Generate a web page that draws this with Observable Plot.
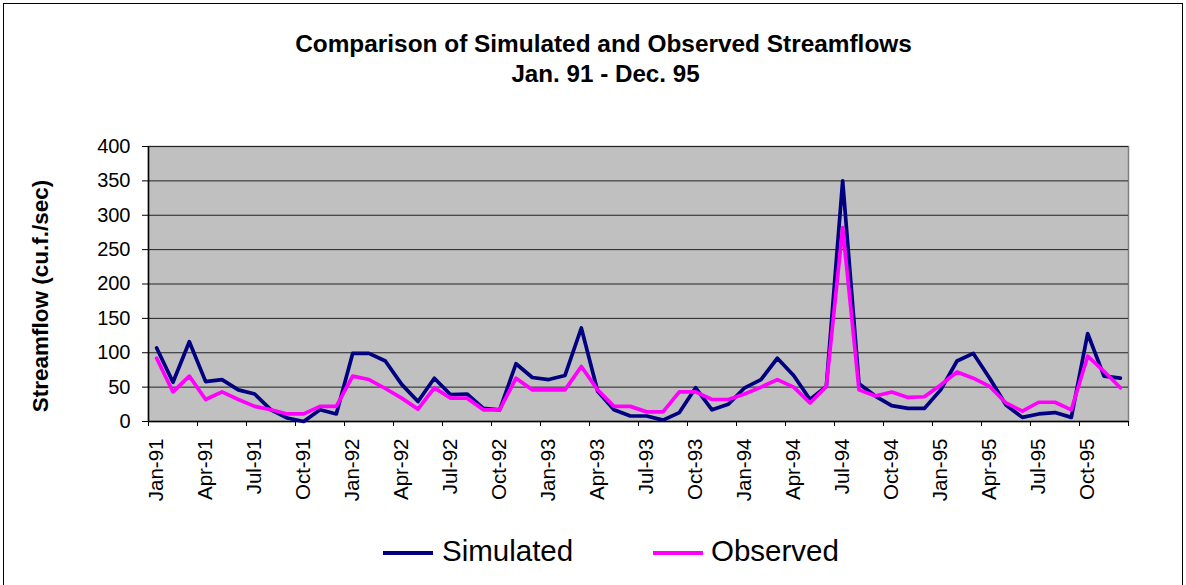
<!DOCTYPE html>
<html>
<head>
<meta charset="utf-8">
<script src="https://cdn.jsdelivr.net/npm/d3@7"></script>
<script src="https://cdn.jsdelivr.net/npm/@observablehq/plot@0.6"></script>
<style>
  html, body { margin: 0; padding: 0; background: #fff; }
  #wrap { position: relative; width: 1186px; height: 585px; overflow: hidden; font-family: "Liberation Sans", Arial, sans-serif; }
  #border { position: absolute; left: 3px; top: 3px; width: 1180px; height: 620px; border: 1px solid #000; box-sizing: border-box; }
  #chart { position: absolute; left: 0; top: 0; }
  .sw { position: absolute; height: 4px; }
  .lt { position: absolute; font-size: 29.5px; line-height: 1; color: #000; white-space: nowrap; }
</style>
</head>
<body>
<div id="wrap">
  <div id="border"></div>
  <div id="chart"></div>
  <div id="legend"></div>
</div>
<script>
const titleText = "Comparison of Simulated and Observed Streamflows";
const subtitleText = "Jan. 91 - Dec. 95";
const yLabel = "Streamflow (cu.f./sec)";
const seriesNames = ["Simulated", "Observed"];
const seriesColors = ["#000080", "#ff00ff"];

const months = [
  "Jan-91","Feb-91","Mar-91","Apr-91","May-91","Jun-91","Jul-91","Aug-91","Sep-91","Oct-91","Nov-91","Dec-91",
  "Jan-92","Feb-92","Mar-92","Apr-92","May-92","Jun-92","Jul-92","Aug-92","Sep-92","Oct-92","Nov-92","Dec-92",
  "Jan-93","Feb-93","Mar-93","Apr-93","May-93","Jun-93","Jul-93","Aug-93","Sep-93","Oct-93","Nov-93","Dec-93",
  "Jan-94","Feb-94","Mar-94","Apr-94","May-94","Jun-94","Jul-94","Aug-94","Sep-94","Oct-94","Nov-94","Dec-94",
  "Jan-95","Feb-95","Mar-95","Apr-95","May-95","Jun-95","Jul-95","Aug-95","Sep-95","Oct-95","Nov-95","Dec-95"
];

const simulated = [
  107, 57, 116, 58, 61, 46, 40, 17, 5, 0, 17, 11,
  99, 99, 88, 54, 29, 63, 39, 40, 19, 17, 84, 64,
  61, 67, 136, 44, 17, 8, 8, 2, 13, 49, 17, 25,
  49, 61, 92, 67, 32, 51, 350, 55, 37, 23, 19, 19,
  46, 88, 99, 63, 24, 6, 11, 13, 6, 128, 66, 63
];

const observed = [
  92, 43, 66, 32, 43, 32, 22, 17, 11, 11, 22, 22,
  66, 61, 48, 34, 18, 49, 34, 34, 17, 17, 63, 46,
  46, 46, 80, 46, 22, 22, 14, 14, 43, 43, 32, 32,
  40, 50, 61, 50, 27, 51, 282, 46, 37, 43, 35, 36,
  53, 72, 63, 51, 27, 15, 28, 28, 17, 95, 73, 49
];

const yTicks = [0, 50, 100, 150, 200, 250, 300, 350, 400];

const data = months.map((m, i) => ({i, m, sim: simulated[i], obs: observed[i]}));
const labelIdx = months.map((m, i) => i).filter(i => i % 3 === 0);
const boundaries = labelIdx.map(i => i - 0.5).concat([months.length - 0.5]);

const chart = Plot.plot({
  width: 1186,
  height: 520,
  marginTop: 146,
  marginBottom: 99,
  marginLeft: 148,
  marginRight: 58,
  style: {fontFamily: "'Liberation Sans', Arial, sans-serif", background: "transparent", color: "#000", overflow: "visible"},
  x: {domain: [-0.5, months.length - 0.5], axis: null},
  y: {domain: [0, 400], axis: null},
  marks: [
    Plot.frame({fill: "#c0c0c0", stroke: "#808080", strokeWidth: 1.5}),
    Plot.ruleY(yTicks.filter(d => d > 0), {stroke: "#222", strokeWidth: 1}),
    Plot.axisY(yTicks, {tickSize: 6, tickPadding: 12, fontSize: 20, label: null}),
    Plot.axisX(boundaries, {tickSize: 5, tickFormat: () => "", label: null}),
    Plot.axisX(labelIdx, {tickSize: 0, tickPadding: 17, tickRotate: -90, tickFormat: i => months[i], fontSize: 20.5, label: null}),
    Plot.ruleX([-0.5], {stroke: "#000", strokeWidth: 1.5}),
    Plot.ruleY([0], {stroke: "#000", strokeWidth: 1.5}),
    Plot.line(data, {x: "i", y: "sim", stroke: seriesColors[0], strokeWidth: 3.7}),
    Plot.line(data, {x: "i", y: "obs", stroke: seriesColors[1], strokeWidth: 3.7}),
    Plot.text([titleText], {frameAnchor: "top", dx: -35, dy: -95, lineAnchor: "bottom", fontSize: 24.4, fontWeight: "bold"}),
    Plot.text([subtitleText], {frameAnchor: "top", dx: -33, dy: -65, lineAnchor: "bottom", fontSize: 24.2, fontWeight: "bold"}),
    Plot.text([yLabel], {frameAnchor: "left", textAnchor: "middle", rotate: -90, dx: -108, dy: 12, fontSize: 22.5, fontWeight: "bold"})
  ]
});
document.getElementById("chart").appendChild(chart);

// Legend
const legend = document.getElementById("legend");
const legendPos = [{sw: 383, tx: 442}, {sw: 653, tx: 711}];
seriesNames.forEach((name, k) => {
  const sw = document.createElement("div");
  sw.className = "sw";
  sw.style.left = legendPos[k].sw + "px";
  sw.style.top = "551px";
  sw.style.width = "50px";
  sw.style.background = seriesColors[k];
  legend.appendChild(sw);
  const t = document.createElement("div");
  t.className = "lt";
  t.style.left = legendPos[k].tx + "px";
  t.style.top = "536px";
  t.textContent = name;
  legend.appendChild(t);
});
</script>
</body>
</html>
